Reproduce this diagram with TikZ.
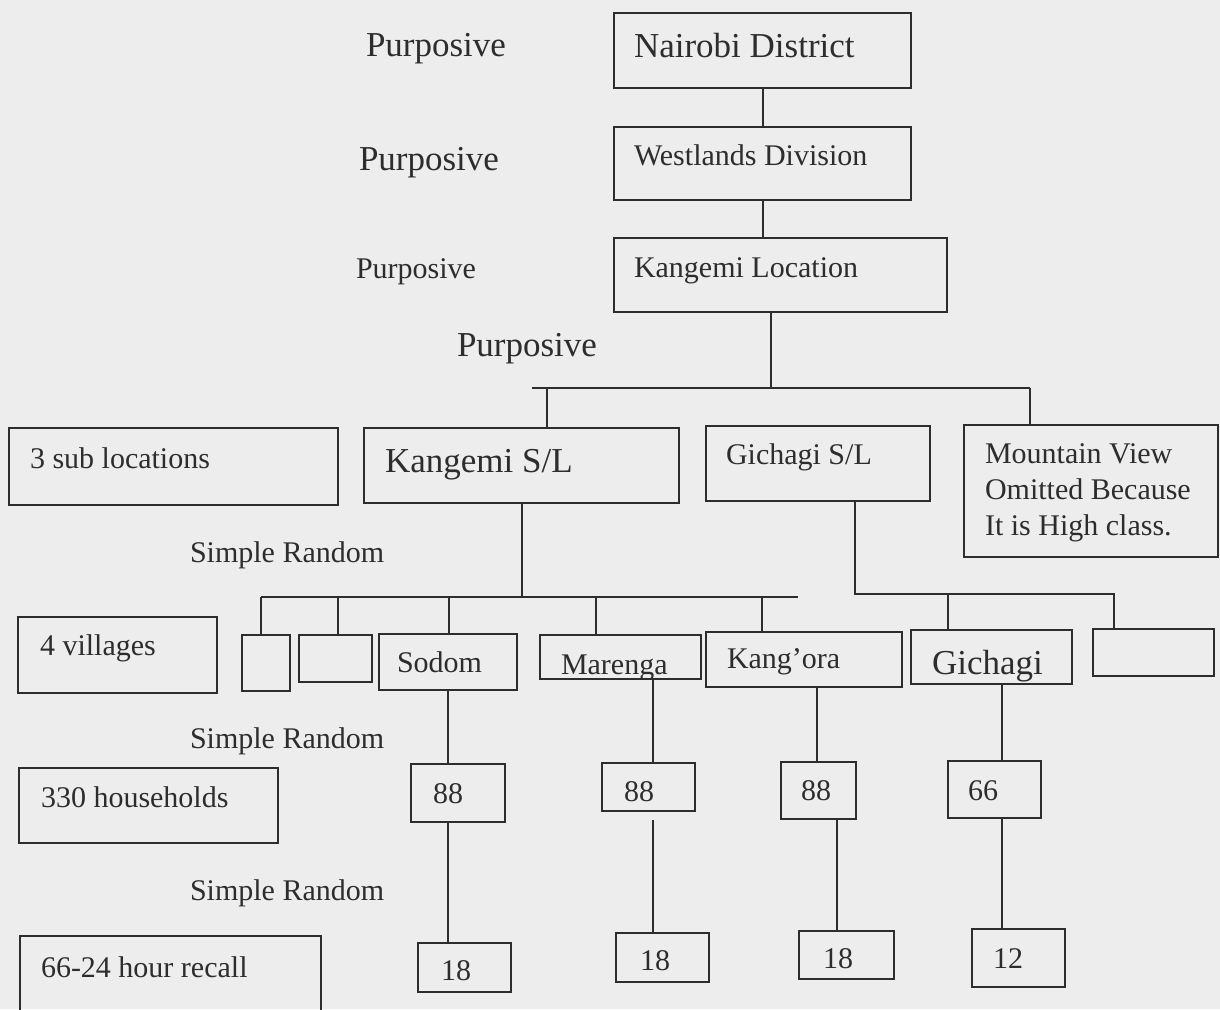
\documentclass[tikz,border=0pt]{standalone}
\usepackage{fontspec}
\setmainfont{Liberation Serif}
\definecolor{bg}{RGB}{237,237,237}
\definecolor{ink}{RGB}{45,45,45}
\tikzset{
 box/.style={draw=ink, line width=1pt, inner sep=0pt, outer sep=0pt, rectangle},
 conn/.style={draw=ink, line width=1pt},
 txt/.style={text=ink, inner sep=0pt, outer sep=0pt, anchor=base west},
 t30/.style={txt, font=\fontsize{15}{18}\selectfont},
 t35/.style={txt, font=\fontsize{17.5}{21}\selectfont},
}
\newcommand{\bx}[5]{\node[box, anchor=north west, minimum width={(#4-#2)*0.5pt}, minimum height={(#5-#3)*0.5pt}] (#1) at (#2,#3) {};}
\begin{document}
\begin{tikzpicture}[x=0.5pt,y=-0.5pt]
\fill[bg] (0,0) rectangle (1220,1009);
\useasboundingbox (0,0) rectangle (1220,1009);
\clip (0,0) rectangle (1220,1009);
% boxes
\bx{nairobi}{614}{13}{911}{88}
\bx{west}{614}{127}{911}{200}
\bx{kloc}{614}{238}{947}{312}
\bx{subloc}{9}{428}{338}{505}
\bx{ksl}{364}{428}{679}{503}
\bx{gsl}{706}{426}{930}{501}
\bx{mv}{964}{425}{1218}{557}
\bx{vill}{18}{617}{217}{693}
\bx{ea}{242}{635}{290}{691}
\bx{eb}{299}{635}{372}{682}
\bx{sodom}{379}{634}{517}{690}
\bx{marenga}{540}{635}{701}{679}
\bx{kangora}{706}{632}{902}{687}
\bx{gichagi}{911}{630}{1072}{684}
\bx{ec}{1093}{629}{1214}{676}
\bx{hh}{19}{768}{278}{843}
\bx{s88}{411}{764}{505}{822}
\bx{m88}{602}{763}{695}{811}
\bx{k88}{781}{762}{856}{819}
\bx{g66}{948}{761}{1041}{818}
\bx{recall}{20}{936}{321}{1015}
\bx{s18}{418}{943}{511}{992}
\bx{m18}{616}{933}{709}{982}
\bx{k18}{799}{931}{894}{979}
\bx{g12}{972}{929}{1065}{987}
% texts
\node[t35] (p1) at (366,56) {Purposive};
\node[t35] (tnai) at (634,57) {Nairobi District};
\node[t35] (p2) at (359,170) {Purposive};
\node[t30] (twest) at (634,165) {Westlands Division};
\node[t30] (p3) at (356,278) {Purposive};
\node[t30] (tkloc) at (634,277) {Kangemi Location};
\node[t35] (p4) at (457,356) {Purposive};
\node[t30] (tsub) at (30,468) {3 sub locations};
\node[t35] (tksl) at (385,472) {Kangemi S/L};
\node[t30] (tgsl) at (726,464) {Gichagi S/L};
\node[t30] (mv1) at (985,463) {Mountain View};
\node[t30] (mv2) at (985,499) {Omitted Because};
\node[t30] (mv3) at (985,535) {It is High class.};
\node[t30] (sr1) at (190,562) {Simple Random};
\node[t30] (tvill) at (40,655) {4 villages};
\node[t30] (tsod) at (397,672) {Sodom};
\begin{scope}
\clip (540,635) rectangle (701,678);
\node[t30] (tmar) at (561,674) {Marenga};
\end{scope}
\node[t30] (tkan) at (727,668) {Kang’ora};
\begin{scope}
\clip (911,630) rectangle (1072,683);
\node[t35] (tgic) at (932,674) {Gichagi};
\end{scope}
\node[t30] (sr2) at (190,748) {Simple Random};
\node[t30] (thh) at (41,807) {330 households};
\node[t30] (n1) at (433,803) {88};
\node[t30] (n2) at (624,801) {88};
\node[t30] (n3) at (801,800) {88};
\node[t30] (n4) at (968,800) {66};
\node[t30] (sr3) at (190,900) {Simple Random};
\node[t30] (trec) at (41,977) {66-24 hour recall};
\node[t30] (n5) at (441,980) {18};
\node[t30] (n6) at (640,970) {18};
\node[t30] (n7) at (823,968) {18};
\node[t30] (n8) at (993,968) {12};
% connectors top
\coordinate (xa) at (771,388);
\coordinate (bl) at (532,388);
\coordinate (d1) at (547,388);
\coordinate (br) at (1030,388);
\draw[conn] (nairobi.south) -- (west.north);
\draw[conn] (west.south) -- (west.south |- kloc.north);
\draw[conn] (kloc.south -| xa) -- (xa);
\draw[conn] (bl) -- (br);
\draw[conn] (d1) -- (d1 |- ksl.north);
\draw[conn] (br) -- (br |- mv.north);
% Kangemi S/L tree
\coordinate (kj) at (522,597);
\coordinate (kbl) at (261,597);
\coordinate (kbr) at (798,597);
\coordinate (k2) at (338,597);
\coordinate (k3) at (449,597);
\coordinate (k4) at (596,597);
\coordinate (k5) at (762,597);
\draw[conn] (ksl.south -| kj) -- (kj);
\draw[conn] (kbl) -- (kbr);
\draw[conn] (kbl) -- (kbl |- ea.north);
\draw[conn] (k2) -- (k2 |- eb.north);
\draw[conn] (k3) -- (k3 |- sodom.north);
\draw[conn] (k4) -- (k4 |- marenga.north);
\draw[conn] (k5) -- (k5 |- kangora.north);
% Gichagi S/L tree
\coordinate (gj) at (855,594);
\coordinate (gr) at (1114,594);
\coordinate (g2) at (948,594);
\draw[conn] (gsl.south -| gj) -- (gj) -- (gr) -- (gr |- ec.north);
\draw[conn] (g2) -- (g2 |- gichagi.north);
% lower
\coordinate (xs) at (448,0);
\coordinate (xm) at (653,0);
\coordinate (xmb) at (653,820);
\coordinate (xk) at (817,0);
\coordinate (xk2) at (837,0);
\coordinate (xg) at (1002,0);
\draw[conn] (sodom.south -| xs) -- (s88.north -| xs);
\draw[conn] (s88.south -| xs) -- (s18.north -| xs);
\draw[conn] (marenga.south -| xm) -- (m88.north -| xm);
\draw[conn] (xmb) -- (m18.north -| xm);
\draw[conn] (kangora.south -| xk) -- (k88.north -| xk);
\draw[conn] (k88.south -| xk2) -- (k18.north -| xk2);
\draw[conn] (gichagi.south -| xg) -- (g66.north -| xg);
\draw[conn] (g66.south -| xg) -- (g12.north -| xg);
\end{tikzpicture}
\end{document}
